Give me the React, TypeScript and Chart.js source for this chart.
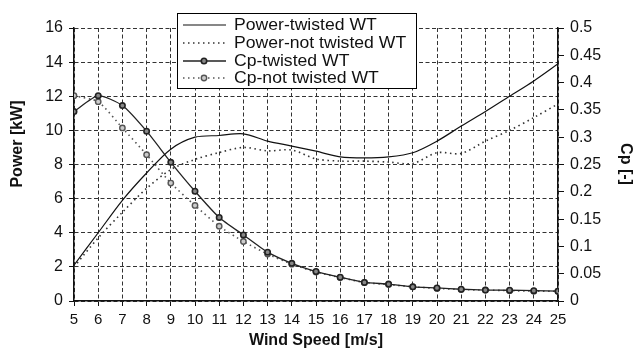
import React, { useEffect, useRef } from 'react';
import { Chart, registerables } from 'chart.js';
Chart.register(...registerables);

const windSpeed = [5, 6, 7, 8, 9, 10, 11, 12, 13, 14, 15, 16, 17, 18, 19, 20, 21, 22, 23, 24, 25];
const powerTwisted = [2.1, 4.0, 5.9, 7.5, 8.9, 9.6, 9.7, 9.8, 9.37, 9.08, 8.78, 8.45, 8.39, 8.45, 8.69, 9.37, 10.25, 11.1, 12.0, 12.9, 13.9];
const powerNotTwisted = [2.0, 3.7, 5.2, 6.6, 7.7, 8.3, 8.7, 9.0, 8.8, 8.85, 8.33, 8.2, 8.2, 8.14, 8.06, 8.69, 8.65, 9.37, 10.0, 10.75, 11.55];
const cpTwisted = [0.347, 0.376, 0.358, 0.311, 0.254, 0.201, 0.153, 0.121, 0.0895, 0.069, 0.054, 0.0435, 0.034, 0.031, 0.026, 0.024, 0.0215, 0.02, 0.0197, 0.019, 0.018];
const cpNotTwisted = [0.376, 0.365, 0.317, 0.268, 0.216, 0.175, 0.137, 0.109, 0.086, 0.0675, 0.053, 0.043, 0.034, 0.03, 0.026, 0.023, 0.021, 0.02, 0.019, 0.018, 0.018];
const seriesLabels = ['Power-twisted WT', 'Power-not twisted WT', 'Cp-twisted WT', 'Cp-not twisted WT'];
const xTitle = 'Wind Speed [m/s]';
const yTitle = 'Power [kW]';
const y1Title = 'Cp [-]';

const FONT = "'Liberation Sans', Arial, sans-serif";
const TEXT = '#111';

const pts = (ys: number[]) => windSpeed.map((x, i) => ({ x, y: ys[i] }));

const overlayPlugin = {
  id: 'overlay',
  afterDraw(chart: any) {
    const { ctx, chartArea } = chart;
    ctx.save();
    ctx.fillStyle = TEXT;
    ctx.font = `bold 16px ${FONT}`;
    ctx.textAlign = 'center';
    ctx.textBaseline = 'middle';
    ctx.fillText(xTitle, (chartArea.left + chartArea.right) / 2, 341);
    ctx.save();
    ctx.translate(18, 144);
    ctx.rotate(-Math.PI / 2);
    ctx.fillText(yTitle, 0, 0);
    ctx.restore();
    ctx.save();
    ctx.translate(625, 164);
    ctx.rotate(Math.PI / 2);
    ctx.fillText(y1Title, 0, 0);
    ctx.restore();

    const bx = 177, by = 13, bw = 239, bh = 75;
    ctx.fillStyle = '#ffffff';
    ctx.fillRect(bx, by, bw, bh);
    ctx.strokeStyle = '#000';
    ctx.lineWidth = 1;
    ctx.setLineDash([]);
    ctx.strokeRect(bx + 0.5, by + 0.5, bw, bh);
    const rows = [25, 43, 61, 78];
    chart.data.datasets.forEach((ds: any, i: number) => {
      const y = rows[i];
      ctx.save();
      ctx.strokeStyle = ds.borderColor;
      ctx.lineWidth = ds.borderWidth;
      ctx.setLineDash(ds.borderDash || []);
      ctx.beginPath();
      ctx.moveTo(183, y);
      ctx.lineTo(226, y);
      ctx.stroke();
      if (ds.pointRadius > 0) {
        ctx.setLineDash([]);
        ctx.beginPath();
        ctx.arc(204, y, ds.pointRadius, 0, Math.PI * 2);
        ctx.fillStyle = ds.pointBackgroundColor;
        ctx.fill();
        ctx.lineWidth = ds.pointBorderWidth;
        ctx.strokeStyle = ds.pointBorderColor;
        ctx.stroke();
      }
      ctx.restore();
      ctx.save();
      ctx.fillStyle = TEXT;
      ctx.font = `16px ${FONT}`;
      ctx.textAlign = 'left';
      ctx.textBaseline = 'middle';
      ctx.translate(234, y + 1);
      ctx.scale(1.1, 1);
      ctx.fillText(ds.label, 0, 0);
      ctx.restore();
    });
    ctx.restore();
  },
};

export default function App() {
  const ref = useRef<HTMLCanvasElement>(null);
  useEffect(() => {
    const chart = new Chart(ref.current!, {
      type: 'line',
      data: {
        datasets: [
          {
            label: seriesLabels[0], data: pts(powerTwisted), yAxisID: 'y',
            borderColor: '#111', borderWidth: 1.2, pointRadius: 0, tension: 0.3,
          },
          {
            label: seriesLabels[1], data: pts(powerNotTwisted), yAxisID: 'y',
            borderColor: '#333', borderWidth: 1.6, borderDash: [1.5, 3.5], pointRadius: 0, tension: 0.3,
          },
          {
            label: seriesLabels[2], data: pts(cpTwisted), yAxisID: 'y1',
            borderColor: '#222', borderWidth: 1.3, pointRadius: 2.7, pointBorderWidth: 1.6,
            pointBorderColor: '#222', pointBackgroundColor: '#888', tension: 0.2,
          },
          {
            label: seriesLabels[3], data: pts(cpNotTwisted), yAxisID: 'y1',
            borderColor: '#555', borderWidth: 1.6, borderDash: [1.5, 3.5], pointRadius: 2.7, pointBorderWidth: 1.4,
            pointBorderColor: '#555', pointBackgroundColor: '#ccc', tension: 0.2,
          },
        ],
      },
      options: {
        animation: false,
        responsive: false,
        layout: { padding: { top: 28, left: 0, right: 0, bottom: 0 } },
        plugins: { legend: { display: false }, tooltip: { enabled: false } },
        scales: {
          x: {
            type: 'linear', min: 5, max: 25,
            afterFit: (s: any) => { s.height = 51; },
            ticks: { stepSize: 1, color: TEXT, font: { family: FONT, size: 15 }, padding: 5, maxRotation: 0, autoSkip: false },
            grid: { color: '#333', lineWidth: 1, tickLength: 5, tickColor: '#111' },
            border: { display: true, color: '#111', width: 1.5, dash: [4, 2.5] },
          },
          y: {
            position: 'left', min: 0, max: 16,
            afterFit: (s: any) => { s.width = 74; },
            ticks: { stepSize: 2, color: TEXT, font: { family: FONT, size: 16 }, padding: 6 },
            grid: { color: '#333', lineWidth: 1, tickLength: 5, tickColor: '#111' },
            border: { display: true, color: '#111', width: 1.5, dash: [4, 2.5] },
          },
          y1: {
            position: 'right', min: 0, max: 0.5,
            afterFit: (s: any) => { s.width = 77; },
            ticks: {
              stepSize: 0.05, color: TEXT, font: { family: FONT, size: 16 }, padding: 6,
              callback: (v: any) => String(Number(Number(v).toFixed(2))),
            },
            grid: { drawOnChartArea: false, tickLength: 6, tickColor: '#111' },
            border: { display: true, color: '#111', width: 1.5 },
          },
        },
      },
      plugins: [overlayPlugin],
    });
    return () => chart.destroy();
  }, []);
  return (
    <div style={{ position: 'absolute', left: 0, top: 0, width: 635, height: 352, background: '#fff' }}>
      <canvas ref={ref} width={635} height={352} style={{ width: 635, height: 352, display: 'block' }} />
    </div>
  );
}
